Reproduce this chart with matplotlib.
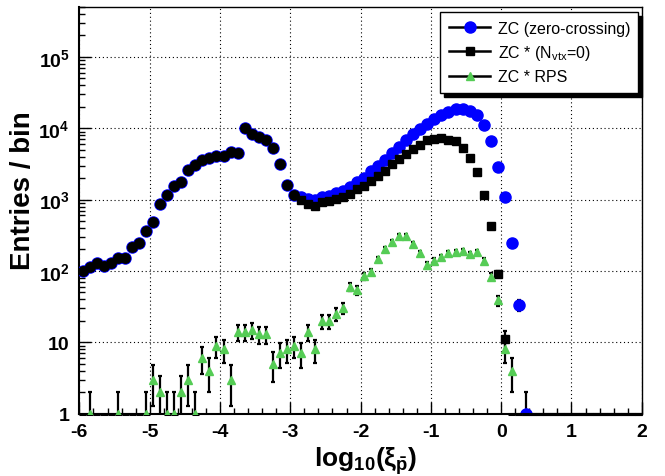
import numpy as np
import matplotlib
matplotlib.use('Agg')
import matplotlib.pyplot as plt
from matplotlib.lines import Line2D
from matplotlib.ticker import FixedLocator, FixedFormatter, LogLocator, NullFormatter, MultipleLocator

plt.rcParams['font.family'] = ['Liberation Sans', 'DejaVu Sans']
plt.rcParams['mathtext.fontset'] = 'custom'
plt.rcParams['mathtext.rm'] = 'Liberation Sans'
plt.rcParams['mathtext.it'] = 'Liberation Sans:italic'
plt.rcParams['mathtext.bf'] = 'Liberation Sans:bold'
plt.rcParams['axes.unicode_minus'] = False

# ---- data: 80 bins of 0.1 from -6 to 2 ----
x_lo, x_hi, n_bins = -6.0, 2.0, 80

zc = [101, 112, 128, 118, 129, 151, 151, 219, 245, 367,
      491, 861, 1175, 1540, 1780, 2620, 3100, 3600, 3840, 4140,
      4140, 4710, 4570, 10140, 8300, 7500, 6870, 5250, 3150, 1607,
      1175, 1100, 1030, 980, 1100, 1137, 1241, 1340, 1508, 1754,
      1995, 2550, 3000, 3600, 4520, 5500, 6800, 8200, 9900, 11500,
      13500, 15400, 17100, 18700, 18700, 17700, 15400, 11200, 6600, 2900,
      1080, 247, 33, 1, 0, 0, 0, 0, 0, 0,
      0, 0, 0, 0, 0, 0, 0, 0, 0, 0]

zc_nvtx0 = [101, 112, 128, 118, 129, 151, 151, 219, 245, 367,
            491, 861, 1175, 1540, 1780, 2620, 3100, 3600, 3840, 4140,
            4140, 4710, 4570, 10140, 8300, 7500, 6870, 5250, 3150, 1607,
            1175, 1000, 880, 807, 920, 950, 1020, 1080, 1200, 1390,
            1540, 1845, 2170, 2550, 3170, 3760, 4420, 5080, 5850, 6740,
            7100, 7330, 6930, 6600, 5260, 3820, 2470, 1160, 424, 91,
            11, 0, 0, 0, 0, 0, 0, 0, 0, 0,
            0, 0, 0, 0, 0, 0, 0, 0, 0, 0]

zc_rps = [0, 1, 0, 0, 0, 1, 0, 0, 0, 1,
          3, 2, 1, 1, 2, 3, 1, 6, 4, 9,
          8, 3, 14, 14, 15, 13, 13, 5, 7, 8,
          9, 7, 14, 8, 20, 20, 25, 30, 60, 54,
          85, 97, 147, 200, 258, 313, 313, 240, 178, 122,
          140, 156, 179, 186, 188, 174, 182, 140, 83, 39,
          8, 4, 0, 0, 0, 0, 0, 0, 0, 0,
          0, 0, 0, 0, 0, 0, 0, 0, 0, 0]

labels = ['ZC (zero-crossing)', r'ZC * (N$_{\mathrm{vtx}}$=0)', 'ZC * RPS']
ytick_vals = [1, 10, 1e2, 1e3, 1e4, 1e5]
ytick_labels = ['1', '10', r'$\mathbf{10^{2}}$', r'$\mathbf{10^{3}}$',
                r'$\mathbf{10^{4}}$', r'$\mathbf{10^{5}}$']

BLUE = '#0000ff'
GREEN = '#55cc55'

width = (x_hi - x_lo) / n_bins
xc = x_lo + width * (np.arange(n_bins) + 0.5)

fig = plt.figure(figsize=(6.65, 4.77), dpi=100)
ax = fig.add_axes([79.4 / 665, 1 - 414.6 / 477, (641.8 - 79.4) / 665, (414.6 - 8) / 477])
ax.set_yscale('log')
ax.set_xlim(x_lo, x_hi)
ax.set_ylim(1, 10 ** 5.7)


def errbars(v, z):
    v = np.asarray(v, float)
    m = v > 0
    vv = v[m]
    err = np.sqrt(vv)
    lo = np.where(vv - err > 0, err, vv - 1e-3)
    ax.errorbar(xc[m], vv, yerr=[lo, err], fmt='none', ecolor='black',
                elinewidth=1.6, capsize=1.3, capthick=1.6, zorder=z)
    # bins at or below the axis minimum are drawn along the bottom
    low = v <= 1
    ax.hlines(np.ones(low.sum()), xc[low] - width / 2, xc[low] + width / 2,
              color='black', lw=2.2, clip_on=False, zorder=z)


v_zc = np.asarray(zc, float)
v_nv = np.asarray(zc_nvtx0, float)
v_rp = np.asarray(zc_rps, float)

errbars(v_zc, 3)
m = v_zc > 0
ax.plot(xc[m], v_zc[m], 'o', ms=8, mfc=BLUE, mec=BLUE, zorder=4)

errbars(v_nv, 5)
same = (v_nv == v_zc) & (v_nv > 0)
diff = (v_nv != v_zc) & (v_nv > 0)
ax.plot(xc[same], v_nv[same], 'o', ms=6.8, mfc='black', mec='black', zorder=6)
ax.plot(xc[diff], v_nv[diff], 's', ms=5.5, mfc='black', mec='black', zorder=6)

errbars(v_rp, 7)
m = v_rp > 0
ax.plot(xc[m], v_rp[m], '^', ms=6, mfc=GREEN, mec=GREEN, zorder=8)

# axes styling
ax.xaxis.set_major_locator(MultipleLocator(1))
ax.xaxis.set_minor_locator(MultipleLocator(0.2))
ax.yaxis.set_major_locator(FixedLocator(ytick_vals))
ax.yaxis.set_major_formatter(FixedFormatter(ytick_labels))
ax.yaxis.set_minor_locator(LogLocator(base=10, subs=np.arange(2, 10)))
ax.yaxis.set_minor_formatter(NullFormatter())
ax.tick_params(which='both', direction='in', top=False, right=False, width=1)
ax.tick_params(which='major', length=8.5, labelsize=14, pad=7)
ax.tick_params(which='minor', length=4.5)
for lab in ax.get_xticklabels() + ax.get_yticklabels():
    lab.set_fontweight('bold')

ax.grid(True, which='major', linestyle=(0, (1, 2.5)), color='black', lw=0.8)
ax.set_axisbelow(True)
for s in ['left', 'bottom']:
    ax.spines[s].set_linewidth(1.5)
for s in ['top', 'right']:
    ax.spines[s].set_linewidth(1.0)

fig.text(23 / 665, 1 - 191 / 477, 'Entries / bin', rotation=90, ha='center',
         va='center', fontsize=20, fontweight='bold')
fig.text(366 / 665, 1 - 461 / 477, r'$\mathbf{log_{10}(\xi_{\bar{p}})}$',
         ha='center', va='center', fontsize=19)

handles = [
    Line2D([], [], color='black', lw=1.8, marker='o', ms=8, mfc=BLUE, mec=BLUE),
    Line2D([], [], color='black', lw=1.8, marker='s', ms=5.5, mfc='black', mec='black'),
    Line2D([], [], color='black', lw=1.8, marker='^', ms=6, mfc=GREEN, mec=GREEN),
]
x0, x1 = 440 / 665, 638 / 665
yt, yb = 1 - 13 / 477, 1 - 95 / 477
leg = fig.legend(handles, labels, loc='upper left',
                 bbox_to_anchor=(x0, yb, x1 - x0, yt - yb), mode='expand',
                 fontsize=11.5, frameon=True, fancybox=False, framealpha=1,
                 edgecolor='black', borderaxespad=0, handlelength=2.6,
                 handletextpad=0.5, labelspacing=0.45, borderpad=0.55,
                 numpoints=1,
                 shadow={'color': 'black', 'alpha': 1, 'ox': 2.8, 'oy': -2.8})
leg.get_frame().set_linewidth(1.0)
leg.set_zorder(20)

fig.savefig('out.png', dpi=100)
